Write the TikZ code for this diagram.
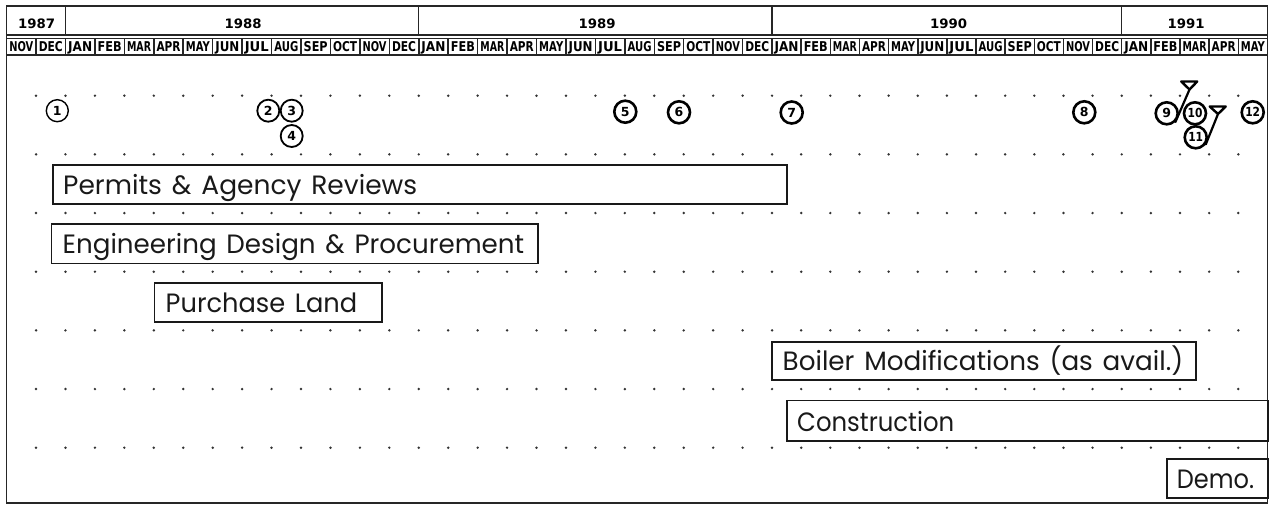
\documentclass[tikz,border=0pt]{standalone}
\usepackage{fontspec}
\usepackage{graphicx}
\newfontfamily\lblfont{Poppins}[WordSpace=1.4]
\newfontfamily\hdrfont{DejaVu Sans}
\newcommand{\fitw}[2]{\resizebox{#1}{\height}{#2}}
\pgfmathdeclarefunction{mx}{1}{\pgfmathparse{6.6+29.44*(#1)-((#1)>26)*((#1)-26)*0.3}}
\begin{document}
\begin{tikzpicture}[x=1pt,y=-1pt,
  frame/.style={line width=1.3pt, black!85},
  mline/.style={line width=1.5pt, black!85},
  taskbox/.style={draw, line width=1.9pt, rectangle, inner sep=0pt, anchor=north west, black!90},
  tasklbl/.style={anchor=base west, inner sep=0pt, text=black!90, font=\lblfont\fontsize{26.5}{30}\selectfont},
  mon/.style={anchor=base, inner sep=0pt, font=\hdrfont\bfseries\fontsize{13.5}{14}\selectfont},
  yr/.style={anchor=base, inner sep=0pt, font=\hdrfont\bfseries\fontsize{13}{14}\selectfont},
  ms/.style={circle, draw, inner sep=0pt, minimum size=22pt, line width=2.6pt, font=\hdrfont\bfseries\fontsize{12.5}{13}\selectfont},
  msthin/.style={ms, line width=1.4pt},
  msmid/.style={ms, line width=1.8pt},
  flagline/.style={line width=2.2pt, line cap=round},
  flagtri/.style={line width=2.4pt, line join=round}
]
\useasboundingbox (0,0) rectangle (1274,505);

% outer frame
\draw[frame] (6.7,6) -- (6.7,503) -- (1267.4,503) -- (1267.4,6);
% year row
\draw[frame] (6.7,6) rectangle (1267.4,35);
\foreach \k in {2,14,26,38}{\draw[frame] ({mx(\k)},6) -- ({mx(\k)},35);}
\node[yr] (y1987) at (36.7,28.5) {\fitw{37pt}{1987}};
\node[yr] (y1988) at (243,28.5) {\fitw{37pt}{1988}};
\node[yr] (y1989) at (597,28.5) {\fitw{37pt}{1989}};
\node[yr] (y1990) at (948.5,28.5) {\fitw{37pt}{1990}};
\node[yr] (y1991) at (1186,28.5) {\fitw{37pt}{1991}};

% month row
\draw[mline] (6.7,38.5) rectangle (1267.4,55);
\foreach \m [count=\k from 0] in {NOV,DEC,JAN,FEB,MAR,APR,MAY,JUN,JUL,AUG,SEP,OCT,NOV,DEC,JAN,FEB,MAR,APR,MAY,JUN,JUL,AUG,SEP,OCT,NOV,DEC,JAN,FEB,MAR,APR,MAY,JUN,JUL,AUG,SEP,OCT,NOV,DEC,JAN,FEB,MAR,APR,MAY}{
  \pgfmathsetmacro\xa{mx(\k)}
  \pgfmathsetmacro\xb{mx(\k+1)}
  \draw[mline] (\xb,38.5) -- (\xb,55);
  \node[mon] (m\k) at ({(\xa+\xb)/2},51.8) {\fitw{24pt}{\m}};
}

% dot grid
\foreach \r in {0,...,6}{
  \foreach \k in {1,...,42}{
    \fill[black!80] ({mx(\k)},{95.7+58.67*\r}) circle (1.35pt);
  }
}

% milestones
\node[msthin] (c1) at (57.3,110.7) {1};
\node[msmid] (c2) at (268.3,110.7) {2};
\node[msmid] (c3) at (291.7,110.7) {3};
\node[msmid] (c4) at (291.7,136) {4};
\node[ms] (c5) at (625.3,111.7) {5};
\node[ms] (c6) at (679,112.3) {6};
\node[ms] (c7) at (791.7,112.5) {7};
\node[ms] (c8) at (1084.3,112.3) {8};
\node[ms] (c9) at (1166.7,113.3) {9};
\node[ms] (c10) at (1195,113.3) {\scalebox{0.85}[1]{10}};
\node[ms] (c11) at (1195.7,137.3) {\scalebox{0.85}[1]{11}};
\node[ms] (c12) at (1252.7,112.3) {\scalebox{0.85}[1]{12}};

% flags
\coordinate (f9) at (1189.5,89.5);
\coordinate (f11) at (1218,114);
\draw[flagline] (c9.-45) -- (f9);
\draw[flagline] (c11.-35) -- (f11);
\draw[flagtri] (f9) -- ++(-8.3,-8) -- ++(16,0) -- cycle;
\draw[flagtri] (f11) -- ++(-8.3,-7.5) -- ++(16,0) -- cycle;

% task boxes
\node[taskbox, minimum width=734.3pt, minimum height=39.3pt] (permits) at (51.7,164) {};
\node[taskbox, minimum width=486.5pt, minimum height=39.5pt] (eng) at (50.5,223) {};
\node[taskbox, minimum width=227.5pt, minimum height=39pt] (land) at (153.5,282) {};
\node[taskbox, minimum width=424pt, minimum height=38.6pt] (boiler) at (771,340.7) {};
\node[taskbox, minimum width=481.4pt, minimum height=40.5pt] (constr) at (786,399.5) {};
\node[taskbox, minimum width=101.7pt, minimum height=39pt] (demo) at (1165.7,458.3) {};

\node[tasklbl] (permitsT) at (63,194.3) {\fitw{354pt}{Permits \& Agency Reviews}};
\node[tasklbl] (engT) at (62.5,253.5) {\fitw{461.5pt}{Engineering Design \& Procurement}};
\node[tasklbl] (landT) at (165.5,312) {\fitw{191.5pt}{Purchase Land}};
\node[tasklbl] (boilerT) at (782.5,370.3) {\fitw{400.5pt}{Boiler Modifications (as avail.)}};
\node[tasklbl] (constrT) at (797,431) {\fitw{157pt}{Construction}};
\node[tasklbl] (demoT) at (1176.7,488.3) {\fitw{77.3pt}{Demo.}};
\end{tikzpicture}
\end{document}
